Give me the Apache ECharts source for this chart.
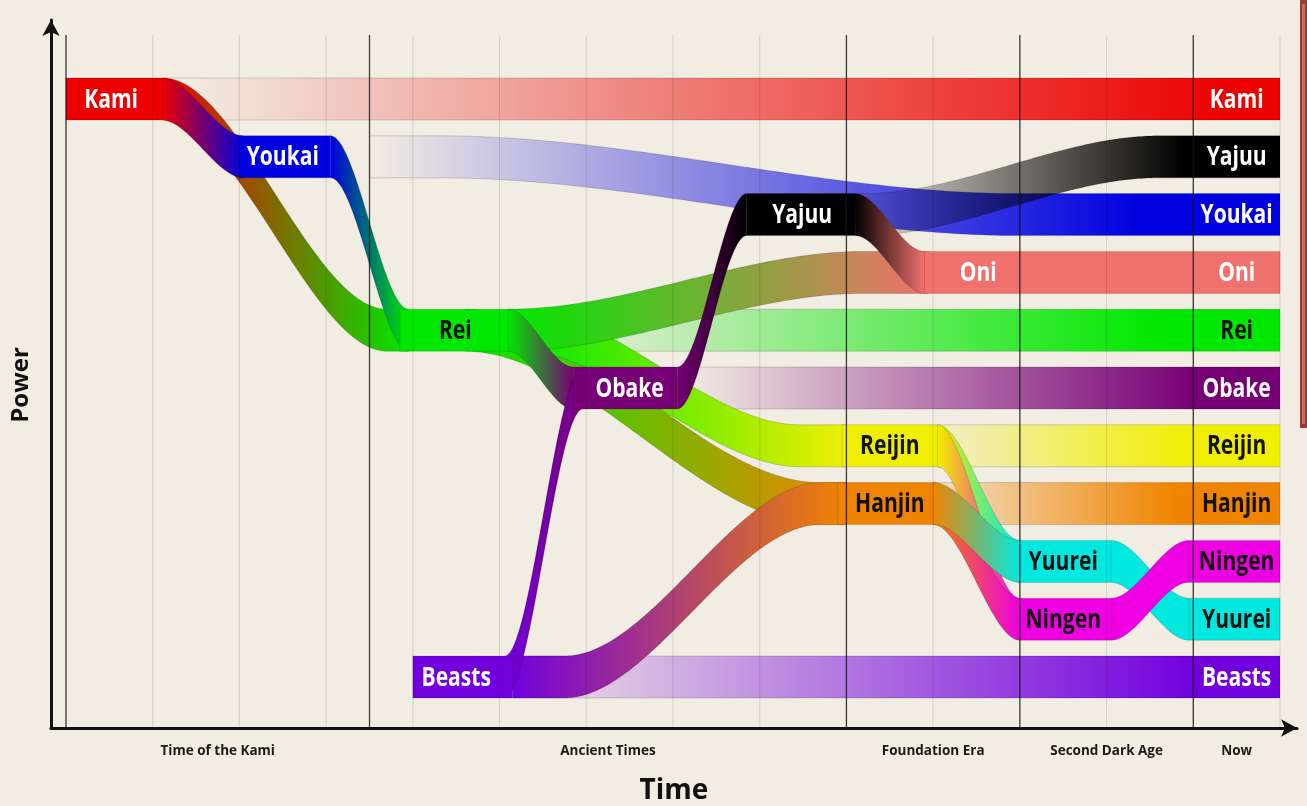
<!DOCTYPE html>
<html><head><meta charset="utf-8">
<script src="https://cdn.jsdelivr.net/npm/echarts@6/dist/echarts.min.js"></script>
<style>html,body{margin:0;padding:0;background:#f2ede3}#c{width:1307px;height:806px}</style>
</head><body><div id="c"></div>
<script>
// ---------- data ----------
const eras = ['Time of the Kami', 'Ancient Times', 'Foundation Era', 'Second Dark Age', 'Now'];
const eraCenters = [1.75, 6.25, 10, 12, 13.5];
const eraBounds = [0, 3.5, 9, 11, 13];
const timeTicks = [0, 1, 2, 3, 4, 5, 6, 7, 8, 9, 10, 11, 12, 13, 14];

const races = ['Kami', 'Yajuu', 'Youkai', 'Oni', 'Rei', 'Obake', 'Reijin', 'Hanjin', 'Ningen', 'Yuurei', 'Beasts'];
const nowLevels = [11, 10, 9, 8, 7, 6, 5, 4, 3, 2, 1];
const nowTime = 13.5;

// solid periods: [race, from, to, level]
const stretches = [
  ['Kami', 0, 1.12, 11],
  ['Youkai', 2.0, 3.05, 10],
  ['Rei', 3.85, 5.1, 7],
  ['Beasts', 4.0, 5.15, 1],
  ['Obake', 5.85, 7.05, 6],
  ['Yajuu', 7.85, 9.1, 9],
  ['Hanjin', 8.9, 10.0, 4],
  ['Reijin', 8.95, 10.05, 5],
  ['Oni', 9.9, 14, 8],
  ['Yuurei', 11.0, 12.05, 3],
  ['Ningen', 11.0, 12.05, 2],
  ['Yuurei', 12.95, 14, 2],
  ['Ningen', 12.95, 14, 3]
];

// labels inside the solid periods: [race, time, level]
const midLabels = [
  ['Kami', 0.52, 11], ['Youkai', 2.5, 10], ['Rei', 4.49, 7], ['Beasts', 4.5, 1],
  ['Obake', 6.5, 6], ['Yajuu', 8.49, 9], ['Reijin', 9.5, 5], ['Hanjin', 9.5, 4],
  ['Oni', 10.52, 8], ['Yuurei', 11.5, 3], ['Ningen', 11.5, 2]
];

// lines that persist and grow back: [race, from, curveFrom, curveTo, to, levelFrom, levelTo, fadeFrom, fadeTo, startOpacity]
const persists = [
  ['Kami', 1.12, 1.12, 1.12, 14, 11, 11, 1.3, 13.4, 0],
  ['Youkai', 3.5, 4.3, 11.0, 14, 10, 9, 3.5, 12.4, 0],
  ['Rei', 5.1, 5.1, 5.1, 14, 7, 7, 5.6, 12.6, 0],
  ['Obake', 7.05, 7.05, 7.05, 14, 6, 6, 7.1, 13.0, 0],
  ['Reijin', 10.05, 10.05, 10.05, 14, 5, 5, 10.05, 13.0, 0.12],
  ['Hanjin', 10.0, 10.0, 10.0, 14, 4, 4, 10.0, 12.8, 0.12],
  ['Beasts', 5.15, 5.15, 5.15, 14, 1, 1, 4.9, 13.0, 0],
  ['Yajuu', 9.1, 9.2, 12.6, 14, 9, 10, 9.1, 12.9, 0.06]
];

// descents: [fromRace, toRace, from, curveFrom, curveTo, to, levelFrom, levelTo]
const descents = [
  ['Kami', 'Rei', 1.12, 1.12, 3.7, 3.95, 11, 7],
  ['Kami', 'Youkai', 1.1, 1.1, 2.05, 2.05, 11, 10],
  ['Rei', 'Hanjin', 4.6, 4.6, 8.7, 9.0, 7, 4],
  ['Rei', 'Reijin', 5.24, 5.24, 8.47, 9.0, 7, 5],
  ['Beasts', 'Hanjin', 5.15, 5.75, 8.7, 9.0, 1, 4],
  ['Rei', 'Oni', 5.1, 5.1, 9.2, 9.95, 7, 8],
  ['Youkai', 'Rei', 3.05, 3.05, 3.95, 3.95, 10, 7],
  ['Rei', 'Obake', 5.1, 5.1, 5.85, 5.85, 7, 6],
  ['Beasts', 'Obake', 5.06, 5.06, 5.96, 5.96, 1, 6],
  ['Obake', 'Yajuu', 7.05, 7.05, 7.85, 7.85, 6, 9],
  ['Yajuu', 'Oni', 9.1, 9.1, 9.9, 9.9, 9, 8],
  ['Reijin', 'Yuurei', 10.05, 10.05, 11.0, 11.0, 5, 3],
  ['Reijin', 'Ningen', 10.05, 10.05, 11.0, 11.0, 5, 2],
  ['Hanjin', 'Ningen', 10.0, 10.0, 11.0, 11.0, 4, 2],
  ['Hanjin', 'Yuurei', 10.0, 10.0, 11.0, 11.0, 4, 3],
  ['Yuurei', 'Yuurei', 12.05, 12.05, 12.95, 12.95, 3, 2],
  ['Ningen', 'Ningen', 12.05, 12.05, 12.95, 12.95, 2, 3]
];

// ---------- styles ----------
const palette = {
  Kami: '#ec0000', Yajuu: '#000000', Youkai: '#0000e0', Oni: '#f0716d', Rei: '#00e800',
  Obake: '#780076', Reijin: '#f0ef00', Hanjin: '#f08400', Ningen: '#ee00e2', Yuurei: '#00e9e0', Beasts: '#7200de'
};
const whiteText = new Set(['Kami', 'Yajuu', 'Youkai', 'Oni', 'Obake', 'Beasts']);
const HALF = 0.3633;      // half band thickness in level units
const Y_MIN = 0.1176, Y_MAX = 12.367, GRID_TOP = 12.107;
const X_MIN = -0.173, X_MAX = 14.196;

const ri = n => races.indexOf(n);
function rgba(hex, a) {
  const n = parseInt(hex.slice(1), 16);
  return 'rgba(' + ((n >> 16) & 255) + ',' + ((n >> 8) & 255) + ',' + (n & 255) + ',' + a + ')';
}
function lvl(u, c0, c1, v0, v1) {
  if (u <= c0) return v0;
  if (u >= c1) return v1;
  const t = (u - c0) / (c1 - c0);
  return v0 + (v1 - v0) * t * t * (3 - 2 * t);
}
function band(api, from, c0, c1, to, v0, v1) {
  const us = [];
  if (from < c0) us.push(from);
  if (c1 > c0) { for (let i = 0; i <= 120; i++) us.push(c0 + (c1 - c0) * i / 120); }
  else us.push(c0);
  if (to > c1) us.push(to);
  const top = us.map(u => api.coord([u, lvl(u, c0, c1, v0, v1) + HALF]));
  const bot = us.map(u => api.coord([u, lvl(u, c0, c1, v0, v1) - HALF]));
  return { top, bot };
}
const clamp = x => Math.max(0, Math.min(1, x));
const edge = pts => ({ type: 'polyline', silent: true, shape: { points: pts }, style: { stroke: 'rgba(0,0,0,0.16)', lineWidth: 1, fill: null } });

// ---------- series data ----------
const persistData = persists.map(p => [p[1], p[2], p[3], p[4], p[5], p[6], p[7], p[8], p[9], ri(p[0])]);
const descentData = descents.map(d => [d[2], d[3], d[4], d[5], d[6], d[7], ri(d[0]), ri(d[1])]);
const stretchData = stretches.map(s => [s[1], s[2], s[3], ri(s[0])]);
const labelData = midLabels.map(l => [l[1], l[2], ri(l[0])])
  .concat(races.map((r, i) => [nowTime, nowLevels[i], i]));

function labelItem(params, api) {
  const p = api.coord([api.value(0), api.value(1)]);
  const name = races[api.value(2)];
  return {
    type: 'text', x: p[0], y: p[1] + 1, scaleX: 0.78, scaleY: 1, silent: true,
    style: {
      text: name, x: 0, y: 0, fill: whiteText.has(name) ? '#ffffff' : '#111111',
      fontSize: 27, fontWeight: 'bold', fontFamily: 'Open Sans',
      align: 'center', verticalAlign: 'middle', textAlign: 'center', textVerticalAlign: 'middle'
    }
  };
}

const chart = echarts.init(document.getElementById('c'), null, { renderer: 'canvas' });
chart.setOption({
  backgroundColor: '#f2ede3',
  animation: false,
  graphic: [
    { type: 'rect', shape: { x: 1300, y: 0, width: 7, height: 428 }, style: { fill: '#a63535' }, z: 0 },
    { type: 'rect', shape: { x: 1302, y: 4, width: 3, height: 420 }, style: { fill: 'rgba(240,220,200,0.35)' }, z: 0 }
  ],
  grid: { left: 51, right: 10, top: 20, bottom: 78, containLabel: false, outerBoundsMode: 'none' },
  xAxis: {
    type: 'value', min: X_MIN, max: X_MAX,
    name: 'Time', nameLocation: 'middle', nameGap: 49,
    nameTextStyle: { fontSize: 28, fontWeight: 'bold', fontFamily: 'Open Sans', color: '#111' },
    axisLine: { show: true, onZero: false, symbol: ['none', 'arrow'], symbolSize: [13, 16], lineStyle: { color: '#111', width: 3 } },
    axisTick: { show: false },
    splitLine: { show: false },
    axisLabel: {
      customValues: eraCenters, margin: 16,
      fontSize: 13.5, fontWeight: 'bold', fontFamily: 'Open Sans', color: '#1a1a1a',
      formatter: v => { const i = eraCenters.findIndex(c => Math.abs(c - v) < 1e-6); return i >= 0 ? eras[i] : ''; }
    }
  },
  yAxis: {
    type: 'value', min: Y_MIN, max: Y_MAX,
    name: 'Power', nameLocation: 'middle', nameGap: 18, nameRotate: 90,
    nameTextStyle: { fontSize: 24, fontWeight: 'bold', fontFamily: 'Open Sans', color: '#111', padding: [0, 0, 0, -22] },
    axisLine: { show: true, onZero: false, symbol: ['none', 'arrow'], symbolSize: [13, 16], lineStyle: { color: '#111', width: 3 } },
    axisTick: { show: false }, axisLabel: { show: false }, splitLine: { show: false }
  },
  series: [
    {
      type: 'custom', name: 'persisting', z: 2, silent: true, data: persistData,
      renderItem: (params, api) => {
        const from = api.value(0), c0 = api.value(1), c1 = api.value(2), to = api.value(3);
        const v0 = api.value(4), v1 = api.value(5), f0 = api.value(6), f1 = api.value(7), a0 = api.value(8);
        const col = palette[races[api.value(9)]];
        const { top, bot } = band(api, from, c0, c1, to, v0, v1);
        const span = to - from;
        const o0 = clamp((f0 - from) / span), o1 = clamp((f1 - from) / span);
        const startA = f0 < from ? (from - f0) / (f1 - f0) : a0;
        const fill = new echarts.graphic.LinearGradient(0, 0, 1, 0, [
          { offset: 0, color: rgba(col, startA) }, { offset: o0, color: rgba(col, startA) },
          { offset: o1, color: rgba(col, 1) }, { offset: 1, color: rgba(col, 1) }
        ]);
        return { type: 'group', children: [
          { type: 'polygon', shape: { points: top.concat(bot.slice().reverse()) }, style: { fill: fill } },
          edge(top), edge(bot)
        ] };
      }
    },
    {
      type: 'custom', name: 'descents', z: 3, silent: true, data: descentData,
      renderItem: (params, api) => {
        const from = api.value(0), c0 = api.value(1), c1 = api.value(2), to = api.value(3);
        const v0 = api.value(4), v1 = api.value(5);
        const cA = palette[races[api.value(6)]], cB = palette[races[api.value(7)]];
        const { top, bot } = band(api, from, c0, c1, to, v0, v1);
        const fill = new echarts.graphic.LinearGradient(0, 0, 1, 0, [
          { offset: 0, color: cA }, { offset: 1, color: cB }
        ]);
        return { type: 'group', children: [
          { type: 'polygon', shape: { points: top.concat(bot.slice().reverse()) }, style: { fill: fill } },
          edge(top), edge(bot)
        ] };
      }
    },
    {
      type: 'custom', name: 'stretches', z: 4, silent: true, data: stretchData,
      renderItem: (params, api) => {
        const a = api.coord([api.value(0), api.value(2) + HALF]);
        const b = api.coord([api.value(1), api.value(2) - HALF]);
        return { type: 'rect', shape: { x: a[0], y: a[1], width: b[0] - a[0], height: b[1] - a[1] },
          style: { fill: palette[races[api.value(3)]], stroke: 'rgba(0,0,0,0.14)', lineWidth: 1 } };
      }
    },
    {
      type: 'custom', name: 'timeGrid', z: 5, silent: true, data: timeTicks.map(t => [t, Y_MIN]),
      renderItem: (params, api) => {
        const a = api.coord([api.value(0), Y_MIN]), b = api.coord([api.value(0), GRID_TOP]);
        return { type: 'line', shape: { x1: a[0], y1: a[1], x2: b[0], y2: b[1] }, style: { stroke: 'rgba(0,0,0,0.11)', lineWidth: 1.2 } };
      }
    },
    {
      type: 'custom', name: 'eraBounds', z: 5, silent: true, data: eraBounds.map(t => [t, Y_MIN]),
      renderItem: (params, api) => {
        const a = api.coord([api.value(0), Y_MIN]), b = api.coord([api.value(0), GRID_TOP]);
        return { type: 'line', shape: { x1: a[0], y1: a[1], x2: b[0], y2: b[1] }, style: { stroke: 'rgba(20,20,20,0.8)', lineWidth: 1.3 } };
      }
    },
    {
      type: 'custom', name: 'labels', z: 6, silent: true, data: labelData, renderItem: labelItem
    }
  ]
});
</script></body></html>
